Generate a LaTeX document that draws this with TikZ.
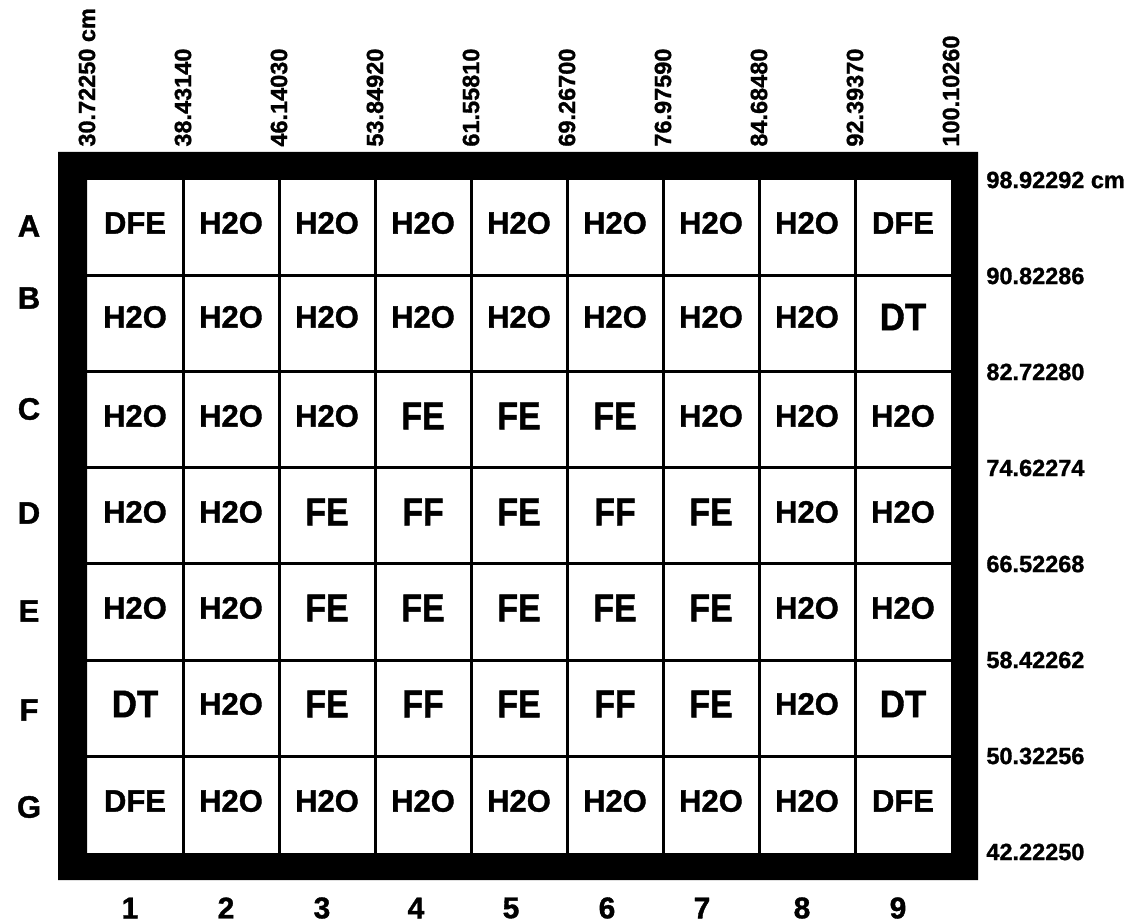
\documentclass[tikz,border=0pt]{standalone}
\usepackage{fontspec}
\setmainfont{Liberation Sans}[BoldFeatures={FakeBold=1.2}]
\begin{document}
\begin{tikzpicture}[x=0.5pt,y=-0.5pt,
  txt/.style={inner sep=0pt,font=\bfseries},
  cell/.style={txt,font=\bfseries\fontsize{15.5}{18}\selectfont},
  lab-H2O/.style={},
  lab-DFE/.style={},
  lab-FE/.style={font=\bfseries\fontsize{17}{20}\selectfont,yscale=1.15},
  lab-FF/.style={font=\bfseries\fontsize{17}{20}\selectfont,yscale=1.15},
  lab-DT/.style={font=\bfseries\fontsize{17.5}{20}\selectfont,yscale=1.1},
  rowlab/.style={txt,font=\bfseries\fontsize{15.5}{18}\selectfont},
  collab/.style={txt,font=\bfseries\fontsize{15}{18}\selectfont},
  toplab/.style={txt,font=\bfseries\fontsize{11.75}{14}\selectfont,rotate=90,anchor=west},
  rightlab/.style={txt,font=\bfseries\fontsize{11.75}{14}\selectfont,anchor=west},
  gridline/.style={line width=1.5pt}]
\useasboundingbox (0,0) rectangle (1140,924);
% frame
\fill[even odd rule] (58,152) rectangle (978,880) (87,180) rectangle (951,853);
% grid lines
\foreach \k in {1,...,8} \draw[gridline] ({87+96*\k},180) -- ({87+96*\k},853);
\foreach \k in {1,...,6} \draw[gridline] (87,{180+96*\k}) -- (951,{180+96*\k});
% cells
\foreach \row [count=\r] in {
  {DFE,H2O,H2O,H2O,H2O,H2O,H2O,H2O,DFE},
  {H2O,H2O,H2O,H2O,H2O,H2O,H2O,H2O,DT},
  {H2O,H2O,H2O,FE,FE,FE,H2O,H2O,H2O},
  {H2O,H2O,FE,FF,FE,FF,FE,H2O,H2O},
  {H2O,H2O,FE,FE,FE,FE,FE,H2O,H2O},
  {DT,H2O,FE,FF,FE,FF,FE,H2O,DT},
  {DFE,H2O,H2O,H2O,H2O,H2O,H2O,H2O,DFE}} {
  \pgfmathsetmacro{\ry}{{223,317,416,512,608,704,801}[\r-1]}
  \foreach \t [count=\c] in \row {
    \node[cell,lab-\t] (c-\r-\c) at ({39+96*\c},\ry) {\t};
  }
}
% row labels
\foreach \l/\y [count=\i] in {A/226,B/298,C/409,D/513,E/611,F/710,G/807}
  \node[rowlab] (row-\i) at (29,\y) {\l};
% column numbers
\foreach \x [count=\i] in {130,226,322,416,511,607,702,802,898}
  \node[collab] (col-\i) at (\x,908) {\i};
% top labels
\foreach \v [count=\i] in {30.72250 cm,38.43140,46.14030,53.84920,61.55810,69.26700,76.97590,84.68480,92.39370,100.10260}
  \node[toplab] (top-\i) at ({87+96*(\i-1)},147) {\v};
% right labels
\foreach \v [count=\i] in {98.92292 cm,90.82286,82.72280,74.62274,66.52268,58.42262,50.32256,42.22250}
  \node[rightlab] (right-\i) at (986,{180+96*(\i-1)}) {\v};
\end{tikzpicture}
\end{document}
